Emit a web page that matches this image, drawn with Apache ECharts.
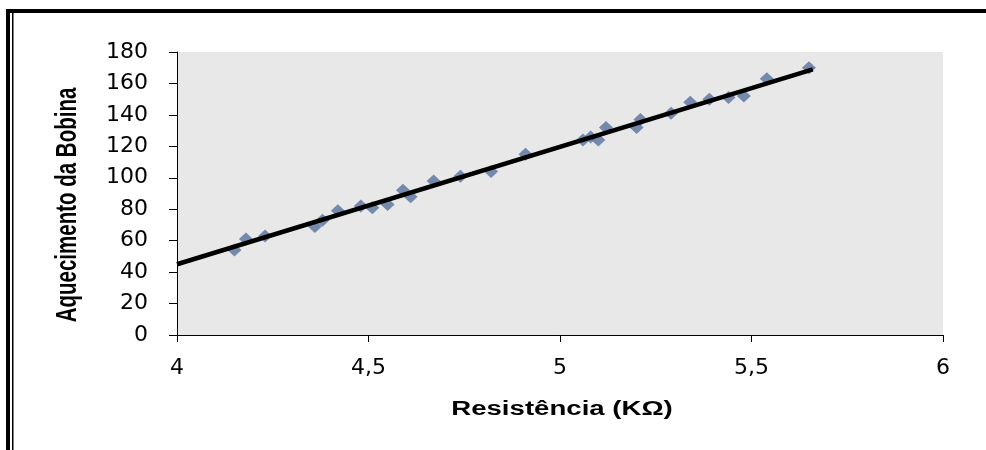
<!DOCTYPE html>
<html>
<head>
<meta charset="utf-8">
<script src="https://cdn.jsdelivr.net/npm/echarts@6/dist/echarts.min.js"></script>
<style>
  html, body { margin: 0; padding: 0; background: #fff; }
  #chart { width: 986px; height: 450px; }
</style>
</head>
<body>
<div id="chart"></div>
<script>
// resistência (kΩ) x aquecimento
var resistencia = [4.15, 4.18, 4.23, 4.36, 4.38, 4.42, 4.48, 4.51, 4.55, 4.59, 4.61, 4.67,
  4.74, 4.82, 4.91, 5.06, 5.08, 5.10, 5.12, 5.20, 5.21, 5.29, 5.34, 5.39, 5.44, 5.48, 5.54, 5.65];
var aquecimento = [54, 61, 63, 69, 73, 79, 82, 81, 83, 92, 88, 98,
  101, 104, 115, 124, 126, 124, 132, 132, 137, 141, 148, 150, 151, 152, 163, 170];
// linha de tendência (extremos)
var trendX = [4, 5.66];
var trendY = [45, 169];
var xTicks = { min: 4, max: 6, step: 0.5 };
var yTicks = { min: 0, max: 180, step: 20 };

var chart = echarts.init(document.getElementById("chart"));
var pontos = resistencia.map(function (x, i) { return [x, aquecimento[i]]; });
var tendencia = trendX.map(function (x, i) { return [x, trendY[i]]; });
var fonteNum = "'DejaVu Sans', sans-serif";
var fonte = "'Liberation Sans', Arial, sans-serif";

var option = {
  backgroundColor: "#ffffff",
  animation: false,
  grid: {
    left: 177,
    top: 52,
    right: 43,
    bottom: 115,
    show: true,
    backgroundColor: "#E8E8E8",
    borderWidth: 0
  },
  xAxis: {
    type: "value",
    min: xTicks.min,
    max: xTicks.max,
    interval: xTicks.step,
    axisLine: { show: true, onZero: false, lineStyle: { color: "#000", width: 1 } },
    axisTick: { show: true, length: 7, lineStyle: { color: "#000" } },
    axisLabel: {
      margin: 22,
      fontFamily: fonteNum,
      fontSize: 22,
      color: "#000",
      formatter: function (v) { return String(v).replace(".", ","); }
    },
    splitLine: { show: false }
  },
  yAxis: {
    type: "value",
    min: yTicks.min,
    max: yTicks.max,
    interval: yTicks.step,
    axisLine: { show: true, lineStyle: { color: "#000", width: 1 } },
    axisTick: { show: true, length: 8, lineStyle: { color: "#000" } },
    axisLabel: { margin: 29, fontFamily: fonteNum, fontSize: 22, color: "#000" },
    splitLine: { show: false }
  },
  graphic: [
    // moldura
    { type: "rect", shape: { x: 6, y: 9, width: 980, height: 4 }, style: { fill: "#000" } },
    { type: "rect", shape: { x: 6, y: 9, width: 4, height: 441 }, style: { fill: "#000" } },
    { type: "rect", shape: { x: 12, y: 13, width: 1.5, height: 437 }, style: { fill: "#000" } },
    // títulos dos eixos (texto esticado como no original)
    {
      type: "text",
      x: 562,
      y: 409,
      scaleX: 1.38,
      style: {
        text: "Resistência (KΩ)",
        fontFamily: fonte,
        fontSize: 20,
        fontWeight: "bold",
        fill: "#000",
        align: "center",
        verticalAlign: "middle"
      }
    },
    {
      type: "text",
      x: 68,
      y: 205,
      rotation: Math.PI / 2,
      scaleY: 1.4,
      style: {
        text: "Aquecimento da Bobina",
        fontFamily: fonte,
        fontSize: 20.5,
        fontWeight: "bold",
        fill: "#000",
        align: "center",
        verticalAlign: "middle"
      }
    }
  ],
  series: [
    {
      type: "scatter",
      data: pontos,
      symbol: "diamond",
      symbolSize: [14, 13],
      itemStyle: { color: "#56709C" },
      z: 2
    },
    {
      type: "line",
      data: tendencia,
      symbol: "none",
      lineStyle: { color: "#000", width: 4.5 },
      z: 3
    }
  ]
};
chart.setOption(option);
</script>
</body>
</html>
